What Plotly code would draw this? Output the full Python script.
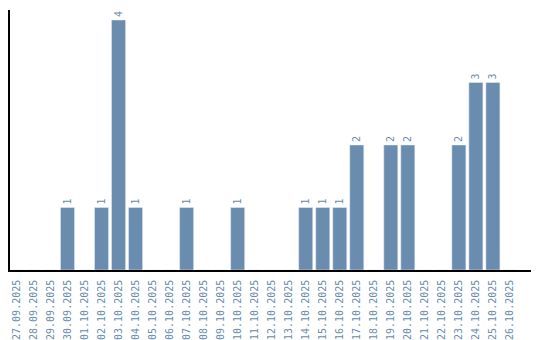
import plotly.graph_objects as go
import pandas as pd

dates = pd.date_range("2025-09-27", "2025-10-26", freq="D").strftime("%d.%m.%Y").tolist()
counts = {
    "30.09.2025": 1, "02.10.2025": 1, "03.10.2025": 4, "04.10.2025": 1,
    "07.10.2025": 1, "10.10.2025": 1, "14.10.2025": 1, "15.10.2025": 1,
    "16.10.2025": 1, "17.10.2025": 2, "19.10.2025": 2, "20.10.2025": 2,
    "23.10.2025": 2, "24.10.2025": 3, "25.10.2025": 3,
}
values = [counts.get(d, 0) for d in dates]
labels = [str(v) if v else "" for v in values]

color = "#6a8caf"
fig = go.Figure(go.Bar(
    x=dates, y=values, text=labels, textposition="outside", textangle=-90,
    marker_color=color, textfont=dict(color=color, size=10, family="DejaVu Sans Mono"),
    cliponaxis=False,
))
fig.update_layout(
    width=540, height=340, margin=dict(l=10, r=9, t=10, b=70),
    plot_bgcolor="white", paper_bgcolor="white", bargap=0.176, showlegend=False,
    font=dict(family="DejaVu Sans Mono", size=10, color=color),
)
fig.update_xaxes(type="category", range=[-0.38, 30.24], tickangle=-90, showline=True,
                 linecolor="black", linewidth=1.5, ticks="", showgrid=False,
                 automargin=False, ticklabelstandoff=4,
                 tickfont=dict(color=color, size=10, family="DejaVu Sans Mono"))
fig.update_yaxes(range=[0, 4.16], showline=True, linecolor="black", linewidth=1.5,
                 showticklabels=False, ticks="", showgrid=False, zeroline=False,
                 automargin=False)
fig.write_html("out.html")
